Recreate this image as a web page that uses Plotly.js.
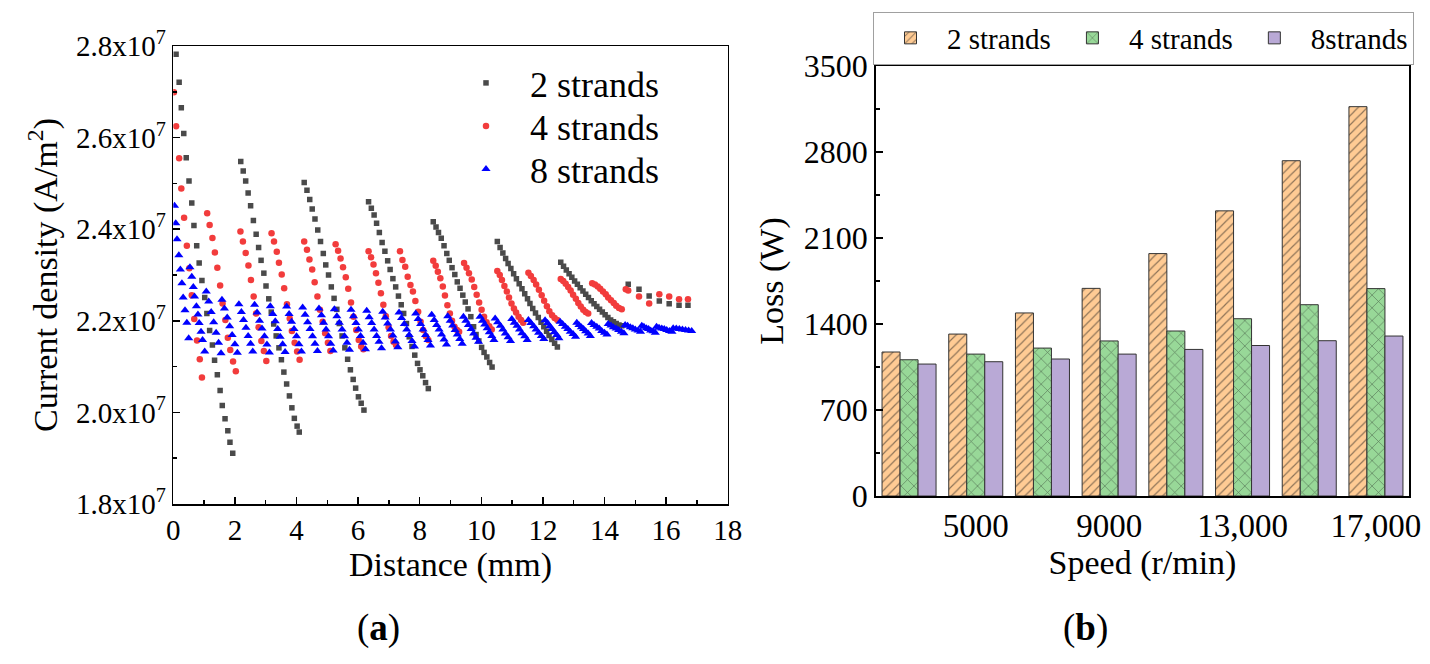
<!DOCTYPE html>
<html><head><meta charset="utf-8">
<script src="https://cdn.plot.ly/plotly-3.0.1.min.js"></script>
<style>html,body{margin:0;padding:0;background:#fff}#chart{width:1430px;height:664px}</style>
</head><body><div id="chart"></div>
<script>
// ---------- (a) Current density along distance (values in 1e7 A/m^2) ----------
const xTwo = [
 0.09,0.19,0.26,0.34,0.42,0.51,0.60,0.67,0.76,0.84,0.93,1.02,1.09,1.18,1.27,1.34,1.43,1.52,1.59,1.68,1.77,1.84,1.93,
 2.19,2.27,2.35,2.43,2.51,2.60,2.69,2.77,2.85,2.94,3.01,3.10,3.18,3.26,3.34,3.43,3.51,3.59,3.68,3.77,3.85,3.93,4.02,4.09,
 4.25,4.34,4.43,4.51,4.60,4.69,4.78,4.87,4.95,5.04,5.13,5.22,5.31,5.39,5.48,5.57,5.66,5.75,5.84,5.92,6.01,6.10,6.19,
 6.34,6.43,6.52,6.60,6.69,6.78,6.87,6.96,7.04,7.13,7.22,7.31,7.40,7.48,7.57,7.66,7.75,7.84,7.93,8.01,8.10,8.19,8.28,
 8.44,8.53,8.61,8.70,8.79,8.88,8.96,9.05,9.14,9.22,9.31,9.40,9.48,9.57,9.66,9.75,9.83,9.92,10.01,10.09,10.18,10.27,10.35,
 10.52,10.61,10.70,10.79,10.87,10.96,11.05,11.14,11.23,11.32,11.41,11.50,11.58,11.67,11.76,11.85,11.94,12.03,12.12,12.20,12.29,12.38,12.47,
 12.58,12.67,12.76,12.85,12.94,13.03,13.12,13.21,13.30,13.39,13.48,13.57,13.66,13.75,13.84,13.93,14.02,14.11,14.20,14.29,14.38,14.47,14.56,
 14.77,15.12,15.45,15.78,16.10,16.42,16.71
];
const yTwo = [
 2.782,2.721,2.665,2.609,2.556,2.505,2.457,2.408,2.364,2.326,2.288,2.251,2.216,2.179,2.147,2.114,2.082,2.048,2.015,1.986,1.960,1.935,1.911,
 2.548,2.527,2.505,2.479,2.451,2.419,2.389,2.360,2.332,2.304,2.276,2.248,2.219,2.193,2.167,2.141,2.115,2.088,2.062,2.036,2.010,1.987,1.970,1.957,
 2.502,2.485,2.465,2.444,2.422,2.398,2.373,2.347,2.322,2.300,2.274,2.249,2.225,2.194,2.167,2.141,2.116,2.093,2.072,2.053,2.034,2.020,2.005,
 2.460,2.446,2.431,2.413,2.393,2.371,2.352,2.331,2.312,2.292,2.274,2.254,2.235,2.216,2.194,2.165,2.144,2.125,2.107,2.093,2.080,2.065,2.052,
 2.416,2.405,2.393,2.380,2.364,2.347,2.332,2.316,2.301,2.285,2.271,2.256,2.241,2.226,2.209,2.187,2.170,2.156,2.142,2.131,2.121,2.109,2.099,
 2.373,2.360,2.348,2.336,2.325,2.314,2.303,2.292,2.281,2.270,2.259,2.248,2.238,2.227,2.217,2.207,2.197,2.187,2.177,2.168,2.159,2.151,2.143,
 2.328,2.319,2.311,2.303,2.295,2.287,2.280,2.272,2.265,2.258,2.251,2.244,2.237,2.231,2.225,2.219,2.213,2.207,2.202,2.198,2.194,2.191,2.189,
 2.280,2.269,2.254,2.243,2.237,2.234,2.234
];
const xFour = [
 0.02,0.09,0.19,0.26,0.35,0.44,0.52,0.60,0.68,0.77,0.86,0.93,
 1.10,1.18,1.27,1.35,1.43,1.52,1.60,1.69,1.77,1.85,1.94,2.03,
 2.18,2.26,2.35,2.44,2.52,2.61,2.69,2.77,2.86,2.94,3.02,
 3.19,3.27,3.36,3.43,3.52,3.60,3.69,3.78,3.85,3.94,4.02,4.10,
 4.25,4.34,4.42,4.51,4.59,4.68,4.76,4.85,4.93,5.02,5.10,
 5.27,5.35,5.43,5.51,5.60,5.68,5.77,5.85,5.94,6.02,6.10,6.17,
 6.34,6.42,6.50,6.58,6.66,6.74,6.82,6.90,6.99,7.07,7.15,7.23,
 7.36,7.44,7.53,7.61,7.70,7.78,7.86,7.95,8.03,8.11,8.20,8.28,
 8.44,8.52,8.59,8.67,8.75,8.82,8.90,8.98,9.05,9.13,9.21,9.28,
 9.44,9.52,9.60,9.69,9.77,9.85,9.93,10.01,10.09,10.17,10.26,10.34,
 10.52,10.60,10.67,10.75,10.83,10.90,10.98,11.06,11.13,11.21,11.29,11.36,
 11.53,11.61,11.70,11.78,11.87,11.96,12.04,12.13,12.21,12.30,12.38,12.47,
 12.58,12.66,12.74,12.82,12.90,12.98,13.07,13.15,13.23,13.31,13.39,13.47,
 13.60,13.69,13.78,13.86,13.95,14.04,14.12,14.21,14.30,14.38,14.47,14.56,
 14.69,14.77,15.12,15.45,15.78,16.10,16.42,16.71
];
const yFour = [
 2.699,2.625,2.555,2.489,2.425,2.364,2.315,2.256,2.204,2.157,2.116,2.076,
 2.435,2.409,2.381,2.349,2.316,2.277,2.238,2.202,2.163,2.136,2.111,2.090,
 2.395,2.373,2.348,2.321,2.289,2.253,2.216,2.186,2.156,2.134,2.112,
 2.391,2.373,2.351,2.327,2.301,2.271,2.236,2.205,2.178,2.152,2.133,2.115,
 2.373,2.355,2.334,2.312,2.284,2.253,2.224,2.198,2.173,2.152,2.134,
 2.367,2.353,2.336,2.317,2.295,2.270,2.240,2.209,2.180,2.158,2.144,2.138,
 2.352,2.339,2.323,2.304,2.283,2.260,2.235,2.210,2.186,2.167,2.154,2.147,
 2.352,2.333,2.318,2.296,2.278,2.264,2.243,2.220,2.198,2.180,2.166,2.158,
 2.331,2.320,2.307,2.293,2.275,2.255,2.234,2.216,2.200,2.187,2.180,2.176,
 2.326,2.316,2.304,2.290,2.274,2.257,2.240,2.224,2.209,2.197,2.188,2.181,
 2.309,2.300,2.289,2.276,2.264,2.251,2.238,2.227,2.218,2.209,2.202,2.196,
 2.305,2.298,2.289,2.279,2.268,2.256,2.244,2.232,2.221,2.212,2.206,2.202,
 2.291,2.287,2.281,2.274,2.266,2.257,2.248,2.239,2.231,2.224,2.219,2.216,
 2.282,2.279,2.275,2.270,2.264,2.258,2.251,2.245,2.239,2.233,2.228,2.225,
 2.269,2.266,2.253,2.238,2.258,2.253,2.247,2.247
];
const xEight = [
 0.04,0.08,0.12,0.18,0.23,0.28,0.32,0.38,0.44,0.50,
 0.54,0.60,0.65,0.69,0.75,0.80,0.84,0.90,0.95,1.02,
 1.07,1.15,1.23,1.31,1.39,1.47,1.55,
 1.58,1.66,1.75,1.83,1.91,2.00,2.08,
 2.13,2.21,2.28,2.36,2.43,2.51,2.58,
 2.64,2.72,2.80,2.88,2.96,3.04,3.12,
 3.15,3.23,3.31,3.39,3.47,3.55,3.63,
 3.68,3.76,3.84,3.92,4.00,4.08,4.16,
 4.20,4.28,4.36,4.44,4.52,4.60,4.68,
 4.73,4.81,4.88,4.96,5.04,5.11,5.19,
 5.23,5.31,5.39,5.48,5.56,5.64,5.72,
 5.77,5.85,5.93,6.01,6.08,6.16,6.24,
 6.28,6.36,6.44,6.52,6.60,6.68,6.76,
 6.80,6.88,6.96,7.05,7.13,7.21,7.29,
 7.33,7.41,7.50,7.58,7.66,7.75,7.83,
 7.87,7.95,8.03,8.11,8.19,8.27,8.35,
 8.39,8.47,8.55,8.63,8.71,8.79,8.87,
 8.91,8.99,9.07,9.15,9.22,9.30,9.38,
 9.42,9.50,9.58,9.67,9.75,9.83,9.91,
 9.96,10.04,10.11,10.19,10.26,10.34,10.41,
 10.45,10.53,10.62,10.70,10.78,10.87,10.95,
 10.99,11.07,11.16,11.24,11.32,11.41,11.49,
 11.53,11.61,11.70,11.78,11.86,11.95,12.03,
 12.07,12.15,12.22,12.30,12.37,12.45,12.52,
 12.56,12.64,12.73,12.81,12.89,12.98,13.06,
 13.10,13.17,13.25,13.32,13.39,13.47,13.54,
 13.58,13.66,13.75,13.83,13.91,14.00,14.08,
 14.12,14.21,14.29,14.38,14.46,14.55,14.63,
 14.67,14.75,14.84,14.92,15.00,15.09,15.17,
 15.21,15.28,15.36,15.43,15.50,15.58,15.65,
 15.69,15.77,15.86,15.94,16.02,16.11,16.19,
 16.23,16.33,16.43,16.53,16.63,16.73,16.83
];
const yEight = [
 2.451,2.413,2.378,2.343,2.312,2.282,2.251,2.223,2.196,2.162,
 2.317,2.296,2.274,2.253,2.232,2.214,2.195,2.176,2.158,2.133,
 2.264,2.242,2.219,2.197,2.174,2.152,2.129,
 2.246,2.227,2.207,2.188,2.169,2.149,2.130,
 2.236,2.219,2.202,2.185,2.167,2.150,2.133,
 2.235,2.218,2.200,2.183,2.166,2.148,2.131,
 2.232,2.215,2.199,2.182,2.165,2.149,2.132,
 2.231,2.215,2.198,2.182,2.166,2.149,2.133,
 2.229,2.213,2.197,2.182,2.166,2.150,2.134,
 2.227,2.212,2.196,2.181,2.166,2.150,2.135,
 2.225,2.210,2.196,2.181,2.166,2.152,2.137,
 2.224,2.210,2.195,2.181,2.167,2.152,2.138,
 2.222,2.208,2.195,2.181,2.167,2.154,2.140,
 2.220,2.207,2.194,2.181,2.168,2.155,2.142,
 2.218,2.206,2.193,2.181,2.169,2.156,2.144,
 2.216,2.204,2.193,2.181,2.169,2.158,2.146,
 2.213,2.202,2.191,2.181,2.170,2.159,2.148,
 2.210,2.200,2.190,2.180,2.170,2.160,2.150,
 2.209,2.200,2.191,2.182,2.172,2.163,2.154,
 2.209,2.200,2.192,2.184,2.175,2.167,2.158,
 2.205,2.197,2.189,2.181,2.172,2.164,2.156,
 2.204,2.196,2.189,2.181,2.173,2.166,2.158,
 2.202,2.195,2.188,2.181,2.174,2.167,2.160,
 2.201,2.195,2.188,2.182,2.175,2.169,2.162,
 2.198,2.193,2.187,2.182,2.176,2.171,2.165,
 2.196,2.191,2.186,2.182,2.177,2.172,2.167,
 2.195,2.191,2.187,2.183,2.178,2.174,2.170,
 2.193,2.190,2.186,2.183,2.180,2.176,2.173,
 2.191,2.189,2.186,2.184,2.181,2.179,2.176,
 2.189,2.187,2.184,2.182,2.179,2.177,2.174,
 2.187,2.185,2.183,2.182,2.180,2.178,2.176,
 2.184,2.183,2.182,2.181,2.180,2.179,2.178
];
const densityUnit = 1e7;
const densityTickVals = [1.8, 2.0, 2.2, 2.4, 2.6, 2.8];
const densityTickText = ['1.8x10<sup>7</sup>','2.0x10<sup>7</sup>','2.2x10<sup>7</sup>','2.4x10<sup>7</sup>','2.6x10<sup>7</sup>','2.8x10<sup>7</sup>'];

// ---------- (b) Loss vs speed ----------
const speeds = [3000, 5000, 7000, 9000, 11000, 13000, 15000, 17000];
const loss2 = [1172, 1318, 1490, 1690, 1973, 2321, 2729, 3169];
const loss4 = [1109, 1155, 1204, 1262, 1343, 1443, 1557, 1688];
const loss8 = [1074, 1093, 1115, 1155, 1193, 1225, 1264, 1302];
const speedTickVals = [5000, 9000, 13000, 17000];
const speedTickText = ['5000', '9000', '13,000', '17,000'];

// ---------- layout helpers ----------
const W = 1430, H = 664;
const fx = v => v / W, fy = v => 1 - v / H;
const FONT = 'Liberation Serif, Times New Roman, serif';

const traces = [
  {type:'scatter', mode:'markers', name:'2 strands', x:xTwo, y:yTwo.map(v=>v*densityUnit),
   xaxis:'x', yaxis:'y', legend:'legend', showlegend:true,
   marker:{symbol:'square', size:5.5, color:'#4a4a4a'}},
  {type:'scatter', mode:'markers', name:'4 strands', x:xFour, y:yFour.map(v=>v*densityUnit),
   xaxis:'x', yaxis:'y', legend:'legend3', showlegend:true,
   marker:{symbol:'circle', size:6.5, color:'#f23c3c'}},
  {type:'scatter', mode:'markers', name:'8 strands', x:xEight, y:yEight.map(v=>v*densityUnit),
   xaxis:'x', yaxis:'y', legend:'legend4', showlegend:true,
   marker:{symbol:'triangle-up', size:8, color:'#0000ff'}},
  {type:'bar', name:'2 strands', x:speeds, y:loss2, xaxis:'x2', yaxis:'y2', legend:'legend2', showlegend:true,
   marker:{color:'#FFCB94', line:{color:'#333', width:1},
     pattern:{shape:'/', fillmode:'overlay', fgcolor:'#1a1a1a', bgcolor:'#FFCB94', size:6.5, solidity:0.18}}},
  {type:'bar', name:'4 strands', x:speeds, y:loss4, xaxis:'x2', yaxis:'y2', legend:'legend2', showlegend:true,
   marker:{color:'#98D898', line:{color:'#333', width:1},
     pattern:{shape:'x', fillmode:'overlay', fgcolor:'#1a1a1a', bgcolor:'#98D898', size:9, solidity:0.14}}},
  {type:'bar', name:'8strands', x:speeds, y:loss8, xaxis:'x2', yaxis:'y2', legend:'legend2', showlegend:true,
   marker:{color:'#B9A9D6', line:{color:'#333', width:1}}}
];

const axisBase = {showline:true, linecolor:'#000', linewidth:1.5, mirror:true, showgrid:false,
  zeroline:false, tickcolor:'#000', tickwidth:1.5};

const leftLegend = yc => ({x:fx(442), y:fy(yc), xanchor:'left', yanchor:'middle',
  bgcolor:'rgba(0,0,0,0)', font:{size:36, family:FONT}, itemwidth:78});

const layout = {
  width:W, height:H, margin:{l:0, r:0, t:0, b:0},
  paper_bgcolor:'#fff', plot_bgcolor:'#fff',
  font:{family:FONT, color:'#000'},
  showlegend:true,
  barmode:'group', bargap:0.19, bargroupgap:0,
  xaxis: Object.assign({}, axisBase, {
    domain:[fx(173.3), fx(727.7)], anchor:'y', range:[0,18], tickmode:'linear', tick0:0, dtick:2,
    ticks:'inside', ticklen:7, minor:{dtick:1, ticks:'inside', ticklen:4, tickcolor:'#000'},
    tickfont:{size:29}, title:{text:'Distance (mm)', font:{size:34}, standoff:4}
  }),
  yaxis: Object.assign({}, axisBase, {
    domain:[fy(504), fy(46)], anchor:'x', range:[1.8e7, 2.8e7],
    tickmode:'array', tickvals:densityTickVals.map(v=>v*densityUnit), ticktext:densityTickText,
    ticks:'inside', ticklen:7, minor:{tick0:1.8e7, dtick:1e6, ticks:'inside', ticklen:4, tickcolor:'#000'},
    tickfont:{size:29}, title:{text:'Current density (A/m<sup>2</sup>)', font:{size:34}, standoff:8}
  }),
  xaxis2: Object.assign({}, axisBase, {
    domain:[fx(875.7), fx(1409.3)], anchor:'y2', range:[2000,18000],
    tickmode:'array', tickvals:speedTickVals, ticktext:speedTickText, ticks:'',
    tickfont:{size:33}, title:{text:'Speed (r/min)', font:{size:34}, standoff:6}
  }),
  yaxis2: Object.assign({}, axisBase, {
    domain:[fy(496), fy(66)], anchor:'x2', range:[0,3500], tickmode:'linear', tick0:0, dtick:700,
    ticks:'inside', ticklen:7, minor:{dtick:350, ticks:'inside', ticklen:4, tickcolor:'#000'},
    tickfont:{size:32}, title:{text:'Loss (W)', font:{size:34}, standoff:10}
  }),
  legend: leftLegend(83),
  legend3: leftLegend(126),
  legend4: leftLegend(169),
  legend2:{x:fx(873), y:fy(38), xanchor:'left', yanchor:'middle', orientation:'h',
    bgcolor:'#fff', bordercolor:'#a0a0a0', borderwidth:1, font:{size:29, family:FONT},
    itemwidth:63},
  annotations:[
    {xref:'paper', yref:'paper', x:fx(378), y:fy(628), xanchor:'center', yanchor:'middle',
     text:'(<b>a</b>)', showarrow:false, font:{size:37, family:FONT}},
    {xref:'paper', yref:'paper', x:fx(1085), y:fy(628), xanchor:'center', yanchor:'middle',
     text:'(<b>b</b>)', showarrow:false, font:{size:37, family:FONT}}
  ]
};

Plotly.newPlot('chart', traces, layout, {displayModeBar:false, staticPlot:true});
</script>
</body></html>
